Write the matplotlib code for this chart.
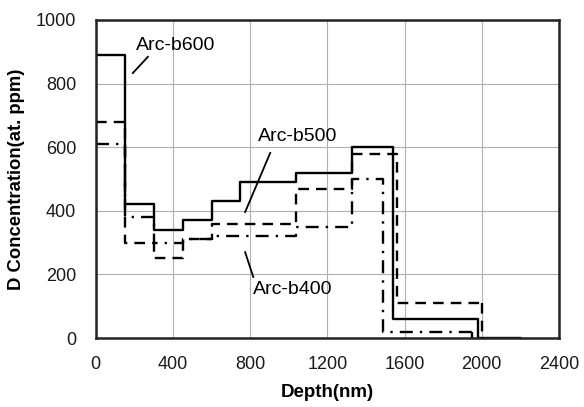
import matplotlib
matplotlib.use("Agg")
import matplotlib.pyplot as plt

plt.rcParams["font.family"] = ["Liberation Sans", "DejaVu Sans"]

# step edges (nm) and concentration (at. ppm) for each layer
b600_depth = [0, 150, 300, 450, 600, 750, 1040, 1330, 1540, 1980, 2200]
b600_conc = [890, 420, 340, 370, 430, 490, 520, 600, 60, 0]

b500_depth = [0, 150, 300, 450, 600, 1040, 1330, 1560, 2000]
b500_conc = [680, 300, 250, 310, 360, 470, 580, 110]

b400_depth = [0, 150, 300, 450, 600, 1040, 1330, 1490, 1950]
b400_conc = [610, 380, 300, 310, 320, 350, 500, 20]

x_ticks = [0, 400, 800, 1200, 1600, 2000, 2400]
y_ticks = [0, 200, 400, 600, 800, 1000]


def step(ax, depth, conc, **kw):
    # close the profile down to zero at the last edge
    xs = list(depth)
    ys = list(conc) + [conc[-1]]
    ax.plot(xs, ys, drawstyle="steps-post", color="black", **kw)
    ax.plot([xs[-1], xs[-1]], [ys[-1], 0], color="black", **kw)


fig = plt.figure(figsize=(5.84, 4.07), dpi=100)
ax = fig.add_axes([0.164, 0.1695, 0.793, 0.7815])

step(ax, b600_depth, b600_conc, lw=1.7)
step(ax, b500_depth, b500_conc, lw=1.7, dashes=(4.5, 3))
step(ax, b400_depth, b400_conc, lw=1.7, dashes=(5.5, 3, 1, 3))

ax.set_xlim(0, 2400)
ax.set_ylim(0, 1000)
ax.set_xticks(x_ticks)
ax.set_yticks(y_ticks)
ax.grid(color="#b0b0b0", lw=0.8)
ax.set_axisbelow(True)
ax.tick_params(length=0, labelsize=13, colors="#1a1a1a")
ax.tick_params(axis="y", pad=14)
ax.tick_params(axis="x", pad=13)
for s in ax.spines.values():
    s.set_linewidth(1.8)
    s.set_color("#222222")

ax.set_xlabel("Depth(nm)", fontsize=13.5, fontweight="bold", labelpad=8)
ax.set_ylabel("D Concentration(at. ppm)", fontsize=13.3, fontweight="bold", labelpad=8)

ann = dict(fontsize=14, ha="center", va="center")
ax.text(416, 921, "Arc-b600", **ann)
ax.plot([270, 192], [884, 833], color="black", lw=1.3)
ax.text(1044, 632, "Arc-b500", **ann)
ax.plot([904, 774], [582, 396], color="black", lw=1.3)
ax.text(1018, 151, "Arc-b400", **ann)
ax.plot([774, 816], [270, 192], color="black", lw=1.3)

fig.savefig("out.png", dpi=100)
